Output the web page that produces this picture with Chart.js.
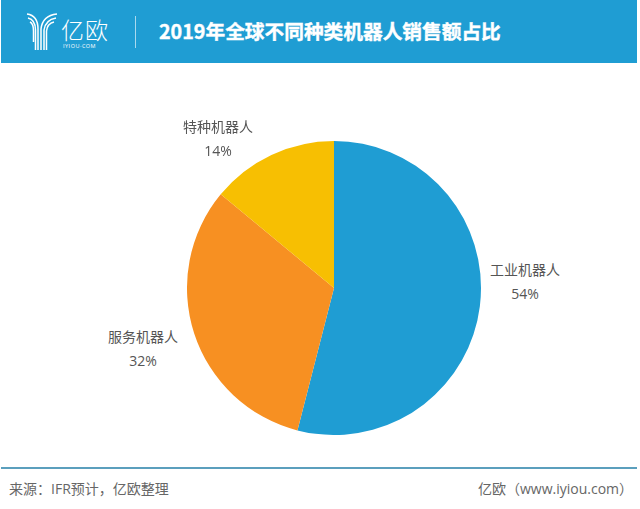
<!DOCTYPE html>
<html>
<head>
<meta charset="utf-8">
<script src="https://cdn.jsdelivr.net/npm/chart.js@4"></script>
<style>
  html, body { margin: 0; padding: 0; background: #fff; }
  body { position: relative; width: 640px; height: 509px; overflow: hidden;
         font-family: "Open Sans", "Noto Sans CJK SC", sans-serif; }
  #header { position: absolute; left: 1px; top: 0; width: 636px; height: 63px; background: #1f9dd3; }
  #logo { position: absolute; left: 25px; top: 12px; }
  #logoName { position: absolute; left: 60px; top: 15px; color: #fff; font-size: 23px; line-height: 30px; font-weight: 300; letter-spacing: 1px; }
  #logoSub { position: absolute; left: 62px; top: 42px; color: #fff; font-size: 5.5px; line-height: 8px; letter-spacing: .5px; }
  #divider { position: absolute; left: 134px; top: 16px; width: 1px; height: 32px; background: #a9d9ee; }
  #title { position: absolute; left: 158px; top: 17px; color: #fff; font-family: "Noto Sans CJK SC", sans-serif; font-size: 19.7px; line-height: 28px; font-weight: 700; white-space: nowrap; -webkit-text-stroke: .4px #fff; }
  #pie { position: absolute; left: 187px; top: 141px; }
  .label { position: absolute; text-align: center; color: #555; font-size: 14px; line-height: 23.5px; white-space: nowrap; transform: translateX(-50%); }
  #rule { position: absolute; left: 1px; top: 467px; width: 636px; height: 2px; background: #5b9fbd; }
  .foot { position: absolute; top: 478px; color: #666; font-size: 14px; line-height: 21px; white-space: nowrap; }
</style>
</head>
<body>
<div id="header">
  <svg id="logo" width="32" height="40" viewBox="0 0 32 40" fill="none" stroke="#fff" stroke-width="1.5">
    <path d="M1 2 C8 3 12 8 12 17 V38"/>
    <path d="M2 6 C6 7 9.5 11 9.5 18 V38"/>
    <path d="M4 10 C6 11 7.5 14 7.5 19 V30"/>
    <path d="M31 2 C22 3 16 8 15 17 V38"/>
    <path d="M30 6 C24 7 19 11 18 18 V38"/>
    <path d="M28 10 C24 11 21 14 20.5 19 V38"/>
  </svg>
  <div id="logoName">亿欧</div>
  <div id="logoSub">IYIOU·COM</div>
  <div id="divider"></div>
  <div id="title">2019年全球不同种类机器人销售额占比</div>
</div>
<canvas id="pie" width="294" height="294"></canvas>
<div class="label" id="label0" style="left:525px;top:258px"></div>
<div class="label" id="label1" style="left:143px;top:325px"></div>
<div class="label" id="label2" style="left:218px;top:115px"></div>
<div id="rule"></div>
<div class="foot" style="left:9px">来源：IFR预计，亿欧整理</div>
<div class="foot" style="left:478px">亿欧（www.iyiou.com）</div>
<script>
// Chart data
const categories = ["工业机器人", "服务机器人", "特种机器人"];
const shares = [54, 32, 14];
const sliceColors = ["#1f9dd3", "#f79022", "#f7bf02"];

// Slice labels
categories.forEach((name, i) => {
  document.getElementById("label" + i).innerHTML = name + "<br>" + shares[i] + "%";
});

const ctx = document.getElementById("pie").getContext("2d");
new Chart(ctx, {
  type: "pie",
  data: {
    labels: categories,
    datasets: [
      {
        data: shares,
        backgroundColor: sliceColors,
        borderWidth: 0,
      },
    ],
  },
  options: {
    responsive: false,
    animation: false,
    plugins: { legend: { display: false }, tooltip: { enabled: false } },
  },
});
</script>
</body>
</html>
